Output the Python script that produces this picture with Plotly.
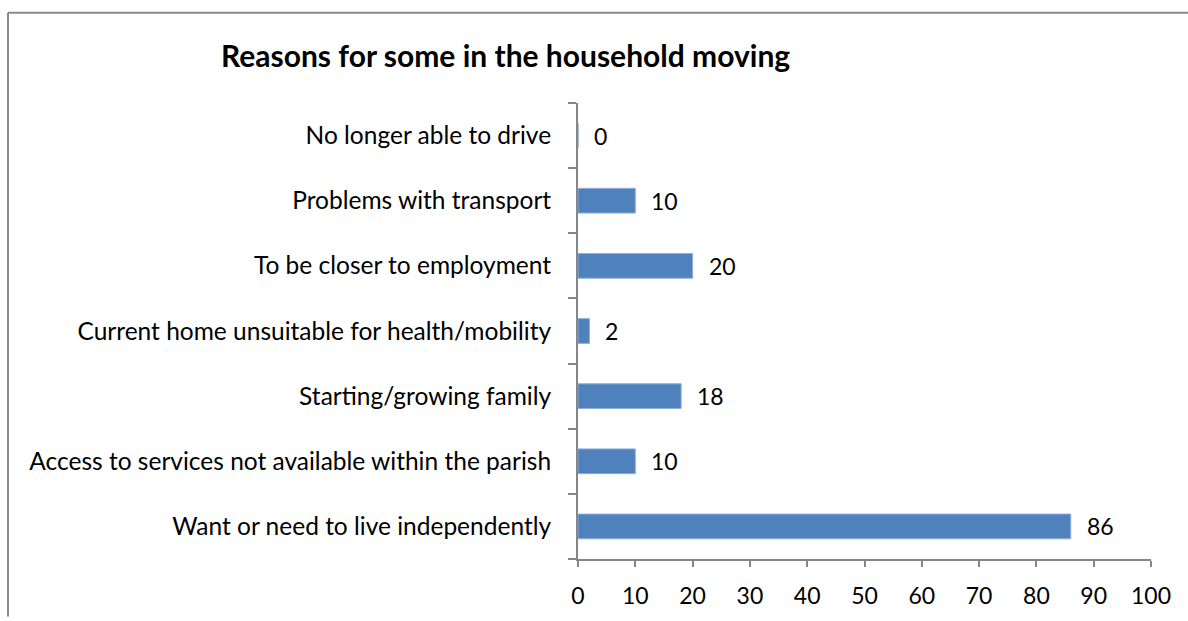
import plotly.graph_objects as go

# Survey responses: reasons for some in the household moving
reasons = [
    "Want or need to live independently",
    "Access to services not available within the parish",
    "Starting/growing family",
    "Current home unsuitable for health/mobility",
    "To be closer to employment",
    "Problems with transport",
    "No longer able to drive",
]
counts = [86, 10, 18, 2, 20, 10, 0]
x_ticks = [0, 10, 20, 30, 40, 50, 60, 70, 80, 90, 100]

W, H = 1188, 621
L, R, T, B = 578, 37, 103, 58
pw, ph = W - L - R, H - T - B

FONT = "Lato"
AXIS = "#868686"
BAR = "#4F81BD"

fig = go.Figure(
    go.Bar(
        y=reasons,
        x=counts,
        orientation="h",
        marker=dict(color=BAR, line=dict(color="#8EB0DC", width=1)),
        width=0.38,
        hoverinfo="skip",
    )
)

# value labels to the right of each bar
for r, c in zip(reasons, counts):
    fig.add_annotation(
        x=c, y=r, xref="x", yref="y", text=str(c), showarrow=False,
        xanchor="left", xshift=14, font=dict(family=FONT, size=23, color="#000"),
    )

# chart frame (top and left edges visible)
def px_to_paper_x(px):
    return (px - L) / pw

def px_to_paper_y(py):
    return 1 - (py - T) / ph

fig.add_shape(type="line", xref="paper", yref="paper",
              x0=px_to_paper_x(8), x1=px_to_paper_x(1190),
              y0=px_to_paper_y(12), y1=px_to_paper_y(12),
              line=dict(color="#8A8A8A", width=2))
fig.add_shape(type="line", xref="paper", yref="paper",
              x0=px_to_paper_x(8), x1=px_to_paper_x(8),
              y0=px_to_paper_y(12), y1=px_to_paper_y(621),
              line=dict(color="#8A8A8A", width=2))

fig.add_annotation(
    text="<b>Reasons for some in the household moving</b>",
    xref="paper", yref="paper",
    x=px_to_paper_x(505), y=px_to_paper_y(55),
    xanchor="center", yanchor="middle", showarrow=False,
    font=dict(family=FONT, size=30, color="#000"),
)

fig.update_layout(
    width=W, height=H,
    margin=dict(l=L, r=R, t=T, b=B),
    paper_bgcolor="white", plot_bgcolor="white",
    showlegend=False,
    xaxis=dict(
        range=[0, 100], tickvals=x_ticks, showgrid=False, zeroline=False,
        showline=True, linecolor=AXIS, linewidth=2,
        ticks="outside", ticklen=6, tickcolor=AXIS, tickwidth=2,
        tickfont=dict(family=FONT, size=23, color="#000"),
        ticklabelstandoff=9,
        fixedrange=True,
    ),
    yaxis=dict(
        categoryorder="array", categoryarray=reasons,
        showgrid=False, zeroline=False,
        showline=True, linecolor=AXIS, linewidth=2,
        ticks="outside", ticklen=8, tickcolor=AXIS, tickwidth=2,
        tickson="boundaries",
        tickfont=dict(family=FONT, size=24.5, color="#000"),
        ticklabelstandoff=20,
        fixedrange=True,
    ),
)

fig.write_html("out.html")
